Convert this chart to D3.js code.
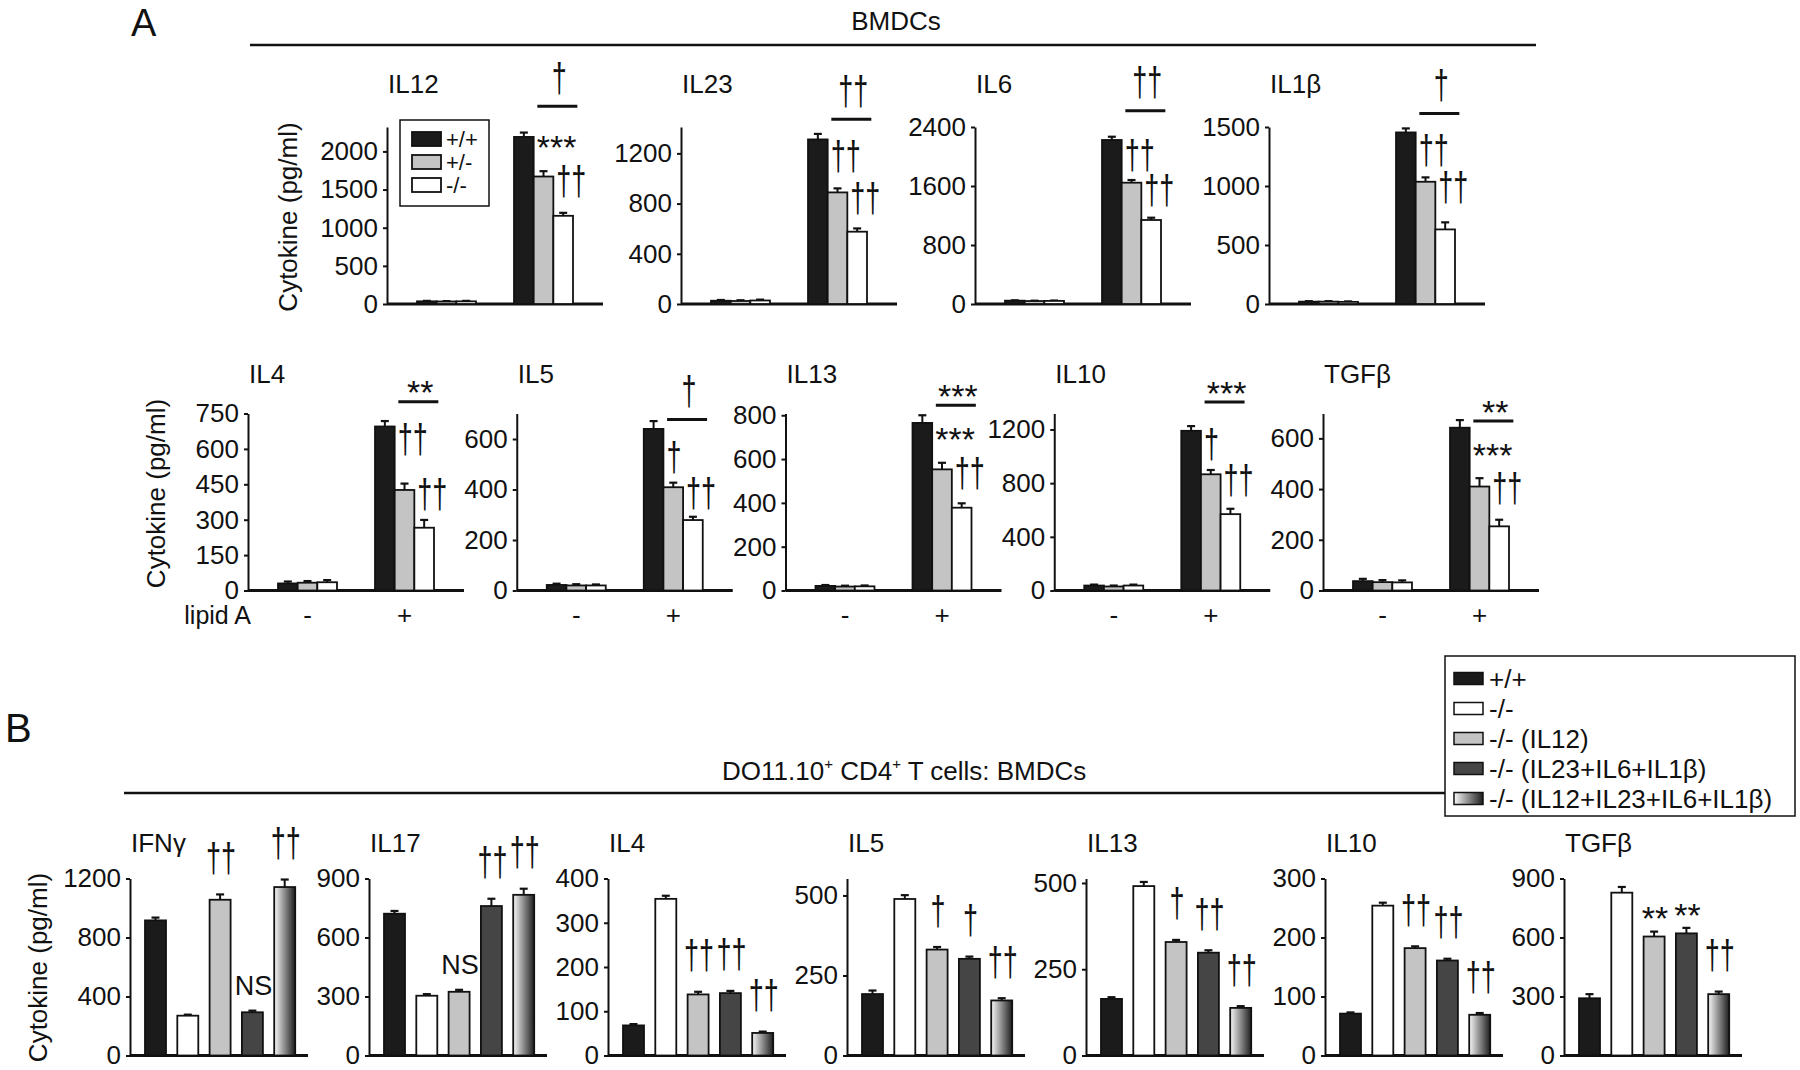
<!DOCTYPE html>
<html><head><meta charset="utf-8">
<script src="https://cdn.jsdelivr.net/npm/d3@7"></script>
<style>
body{margin:0;background:#fff}
text{font-family:"Liberation Sans",Arial,Helvetica,sans-serif;fill:#111}
</style>
</head><body>
<svg id="chart" width="1800" height="1070"></svg>
<script>
// ---------------- DATA ----------------
// Panel A (BMDCs, lipid A - / +)
const genotypesA = ["+/+", "+/-", "-/-"];
const lipidA = ["-", "+"];
const cytokinesA = ["IL12", "IL23", "IL6", "IL1β", "IL4", "IL5", "IL13", "IL10", "TGFβ"];
const aMinusVals = [[35,33,35],[26,24,28],[45,40,42],[20,20,18],[30,33,35],[22,20,20],[21,18,19],[37,30,37],[37,33,32]];
const aMinusErr  = [[6,5,6],[6,6,7],[5,5,5],[4,4,4],[8,7,9],[5,5,4],[4,4,4],[7,7,7],[9,8,8]];
const aPlusVals  = [[2190,1671,1156],[1311,889,576],[2224,1645,1139],[1454,1036,632],[695,426,266],[640,409,279],[765,553,378],[1190,866,569],[642,410,253]];
const aPlusErr   = [[57,70,39],[44,32,26],[44,36,31],[34,37,60],[23,27,33],[31,18,13],[35,30,20],[35,32,40],[30,33,26]];
const aAxisMax   = [2320,1410,2400,1500,750,701,808,1319,698];
const aTicks     = [[0,500,1000,1500,2000],[0,400,800,1200],[0,800,1600,2400],[0,500,1000,1500],
                    [0,150,300,450,600,750],[0,200,400,600],[0,200,400,600,800],[0,400,800,1200],[0,200,400,600]];
const aSigTop    = ["†","††","††","†","**","†","***","***","**"];
const aBracketAt = [2592,1471,2621,1615,800,677,846,1405,668];
const aSigWT     = ["***","††","††","††","††","†","***","†","***"];
const aSigHet    = ["††","††","††","††","††","††","††","††","††"];

// Panel B (DO11.10+ CD4+ T cells : BMDCs)
const groupsB = ["+/+", "-/-", "-/- (IL12)", "-/- (IL23+IL6+IL1β)", "-/- (IL12+IL23+IL6+IL1β)"];
const cytokinesB = ["IFNγ", "IL17", "IL4", "IL5", "IL13", "IL10", "TGFβ"];
const bVals = [[916,270,1056,293,1142],[721,304,324,760,817],[68,354,138,141,51],[192,489,331,302,172],
               [164,491,329,298,138],[71,254,182,161,69],[291,828,605,621,312]];
const bErr  = [[19,7,36,11,51],[14,8,10,37,31],[3,7,6,5,3],[11,12,8,7,7],[5,12,6,7,5],[2,5,3,3,3],[21,29,25,28,13]];
const bAxisMax = [1200,900,400,553,513,300,900];
const bTicks = [[0,400,800,1200],[0,300,600,900],[0,100,200,300,400],[0,250,500],[0,250,500],[0,100,200,300],[0,300,600,900]];
const bSig = [["","","††","NS","††"],["","","NS","††","††"],["","","††","††","††"],["","","†","†","††"],
              ["","","†","††","††"],["","","††","††","††"],["","","**","**","††"]];

// ---------------- STYLE / LAYOUT ----------------
const fillA = ["#1b1b1b", "#c4c4c4", "#ffffff"];
const fillB = ["#1b1b1b", "#ffffff", "#c4c4c4", "#454545", "url(#gradB)"];
const INK = "#111";
const AXIS_H = 177;
const rowsA = [
  {idx:[0,1,2,3], base:304, x0:387, dx:294, titleOff:211, ylabX:-97, ylabOff:-87, xlabels:false},
  {idx:[4,5,6,7,8], base:590.5, x0:248, dx:268.75, titleOff:207.5, ylabX:-90, ylabOff:-97, xlabels:true}
];
const rowB = {base:1055.5, x0:130, dx:239, titleOff:204, ylabX:-90, ylabOff:-88};

const svg = d3.select("#chart");
const defs = svg.append("defs");
const grad = defs.append("linearGradient").attr("id","gradB").attr("x1","0").attr("x2","1").attr("y1","0").attr("y2","0");
grad.append("stop").attr("offset","0%").attr("stop-color","#f8f8f8");
grad.append("stop").attr("offset","100%").attr("stop-color","#1e1e1e");

// glyph metrics (relative to baseline, after scaling)
function markMetrics(s){
  if (s.includes("†")) return {size:30, sx:0.9, sy:1.35, top:-21.5*1.35, bottom:4.8*1.35};
  if (s.includes("*")) return {size:34, sx:1, sy:1, top:-23.9, bottom:-14.7};
  return {size:27, sx:1, sy:1, top:-19.4, bottom:0};
}
function mark(g, s, x, anchor, opt){
  const m = markMetrics(s);
  const yb = opt.bottom !== undefined ? opt.bottom - m.bottom : opt.top - m.top;
  g.append("text").attr("transform",`translate(${x},${yb}) scale(${m.sx},${m.sy})`)
    .attr("text-anchor",anchor).attr("font-size",m.size).text(s);
}
function yAxis(g, y, ticks, axisX){
  const ax = g.append("g").attr("transform",`translate(${axisX},0)`)
    .call(d3.axisLeft(y).tickValues(ticks).tickSize(4).tickSizeOuter(0).tickPadding(5).tickFormat(d3.format("d")));
  ax.select(".domain").attr("stroke",INK).attr("stroke-width",2);
  ax.selectAll(".tick line").attr("stroke",INK).attr("stroke-width",2);
  ax.selectAll(".tick text").attr("font-size",26).attr("fill",INK)
    .attr("font-family",'"Liberation Sans",Arial,sans-serif');
  ax.attr("font-size",null).attr("font-family",null);
}
function yLabel(g, x, y){
  g.append("text").attr("transform",`translate(${x},${y}) rotate(-90)`)
    .attr("text-anchor","middle").attr("dominant-baseline","middle").attr("font-size",26).text("Cytokine (pg/ml)");
}
function errBar(g, cx, y0, y1){
  g.append("line").attr("x1",cx).attr("x2",cx).attr("y1",y0).attr("y2",y1).attr("stroke",INK).attr("stroke-width",2);
  g.append("line").attr("x1",cx-4).attr("x2",cx+4).attr("y1",y1).attr("y2",y1).attr("stroke",INK).attr("stroke-width",2.2);
}

// ---------------- PANEL A ----------------
svg.append("text").attr("x",131).attr("y",36).attr("font-size",38).text("A");
svg.append("text").attr("x",896).attr("y",30).attr("text-anchor","middle").attr("font-size",26).text("BMDCs");
svg.append("line").attr("x1",250).attr("x2",1536).attr("y1",45).attr("y2",45).attr("stroke",INK).attr("stroke-width",2.5);

rowsA.forEach(row => {
  row.idx.forEach((k, j) => {
    const g = svg.append("g");
    const axisX = row.x0 + j*row.dx;
    const base = row.base;
    const y = d3.scaleLinear().domain([0, aAxisMax[k]]).range([base, base-AXIS_H]);
    const xg = d3.scaleBand().domain(lipidA).range([axisX+30, axisX+186]).paddingInner(0.392);
    const xb = d3.scaleBand().domain(genotypesA).range([0, xg.bandwidth()]);

    g.append("text").attr("x",axisX+1).attr("y",base-row.titleOff).attr("font-size",26).text(cytokinesA[k]);
    yAxis(g, y, aTicks[k], axisX);
    g.append("line").attr("x1",axisX).attr("x2",axisX+216).attr("y1",base).attr("y2",base)
      .attr("stroke",INK).attr("stroke-width",3);

    const data = [];
    lipidA.forEach((l, li) => genotypesA.forEach((gt, gi) => data.push({
      l, gt, gi, v: li ? aPlusVals[k][gi] : aMinusVals[k][gi], e: li ? aPlusErr[k][gi] : aMinusErr[k][gi]
    })));
    data.forEach(d => {
      const bx = xg(d.l) + xb(d.gt);
      errBar(g, bx + xb.bandwidth()/2, y(d.v), y(d.v + d.e));
    });
    g.selectAll("rect.bar").data(data).join("rect").attr("class","bar")
      .attr("x", d => xg(d.l) + xb(d.gt)).attr("width", xb.bandwidth())
      .attr("y", d => y(d.v)).attr("height", d => base - y(d.v))
      .attr("fill", d => fillA[d.gi]).attr("stroke", INK).attr("stroke-width", 1.8);

    // significance
    const bracketY = y(aBracketAt[k]);
    const bcx = xg("+") + xb("-/-") + 4;
    g.append("line").attr("x1",bcx-20).attr("x2",bcx+20).attr("y1",bracketY).attr("y2",bracketY)
      .attr("stroke",INK).attr("stroke-width",3);
    const topS = aSigTop[k];
    mark(g, topS, bcx + 2, "middle", {bottom: bracketY - (topS.includes("*") ? 12 : 8)});
    const wtTop = y(aPlusVals[k][0] + aPlusErr[k][0]);
    mark(g, aSigWT[k], xg("+") + xb("+/+") + xb.bandwidth() + 3, "start", {top: Math.max(wtTop + 3, bracketY + 22)});
    const hetTop = y(aPlusVals[k][1] + aPlusErr[k][1]);
    mark(g, aSigHet[k], xg("+") + xb("+/-") + xb.bandwidth() + 3, "start", {top: hetTop - 5});

    if (j === 0) yLabel(g, axisX + row.ylabX, base + row.ylabOff);
    if (row.xlabels) {
      lipidA.forEach(l => g.append("text").attr("x", xg(l) + xg.bandwidth()/2).attr("y", base + 33)
        .attr("text-anchor","middle").attr("font-size",26).text(l));
      if (j === 0) g.append("text").attr("x", axisX + 3).attr("y", base + 33.5).attr("text-anchor","end")
        .attr("font-size",25).text("lipid A");
    }
    // legend in first chart
    if (k === 0) {
      const lx = axisX + 13, ly = y(aAxisMax[k]) - 7;
      const lg = g.append("g").attr("transform",`translate(${lx},${ly})`);
      lg.append("rect").attr("width",89).attr("height",86).attr("fill","#fff").attr("stroke",INK).attr("stroke-width",1.5);
      genotypesA.forEach((gt, i) => {
        const cy = 19 + i*23;
        lg.append("rect").attr("x",12).attr("y",cy-7).attr("width",29).attr("height",14)
          .attr("fill",fillA[i]).attr("stroke",INK).attr("stroke-width",1.8);
        lg.append("text").attr("x",46).attr("y",cy).attr("dominant-baseline","central").attr("font-size",22).text(gt);
      });
    }
  });
});

// ---------------- PANEL B ----------------
svg.append("text").attr("x",5).attr("y",742).attr("font-size",40).text("B");
const tB = svg.append("text").attr("x",722).attr("y",780).attr("font-size",26);
tB.append("tspan").text("DO11.10");
tB.append("tspan").attr("font-size",15).attr("dy",-11).text("+");
tB.append("tspan").attr("dy",11).text(" CD4");
tB.append("tspan").attr("font-size",15).attr("dy",-11).text("+");
tB.append("tspan").attr("dy",11).text(" T cells: BMDCs");
svg.append("line").attr("x1",124).attr("x2",1445).attr("y1",793).attr("y2",793).attr("stroke",INK).attr("stroke-width",2.5);

cytokinesB.forEach((name, k) => {
  const g = svg.append("g");
  const axisX = rowB.x0 + k*rowB.dx;
  const base = rowB.base;
  const y = d3.scaleLinear().domain([0, bAxisMax[k]]).range([base, base-AXIS_H]);
  const x = d3.scaleBand().domain(groupsB).range([axisX+15, axisX+165.2]).paddingInner(0.35);

  g.append("text").attr("x",axisX+1).attr("y",base-rowB.titleOff).attr("font-size",26).text(name);
  yAxis(g, y, bTicks[k], axisX);
  g.append("line").attr("x1",axisX).attr("x2",axisX+178).attr("y1",base).attr("y2",base)
    .attr("stroke",INK).attr("stroke-width",3);
  const data = groupsB.map((gr, i) => ({gr, i, v: bVals[k][i], e: bErr[k][i], s: bSig[k][i]}));
  data.forEach(d => errBar(g, x(d.gr) + x.bandwidth()/2, y(d.v), y(d.v + d.e)));
  g.selectAll("rect.bar").data(data).join("rect").attr("class","bar")
    .attr("x", d => x(d.gr)).attr("width", x.bandwidth())
    .attr("y", d => y(d.v)).attr("height", d => base - y(d.v))
    .attr("fill", d => fillB[d.i]).attr("stroke", INK).attr("stroke-width", 1.8);
  data.filter(d => d.s).forEach(d => {
    mark(g, d.s, x(d.gr) + x.bandwidth()/2 + 1, "middle", {bottom: y(d.v + d.e) - 16});
  });
  if (k === 0) yLabel(g, axisX + rowB.ylabX, base + rowB.ylabOff);
});

// Legend B
const lgB = svg.append("g").attr("transform","translate(1445,656)");
lgB.append("rect").attr("width",350).attr("height",160).attr("fill","#fff").attr("stroke",INK).attr("stroke-width",1.5);
groupsB.forEach((gr, i) => {
  const cy = 22.5 + i*30;
  lgB.append("rect").attr("x",9).attr("y",cy-6).attr("width",29).attr("height",12)
    .attr("fill",fillB[i]).attr("stroke",INK).attr("stroke-width",1.5);
  lgB.append("text").attr("x",44).attr("y",cy).attr("dominant-baseline","central").attr("font-size",26).text(gr);
});
</script>
</body></html>
